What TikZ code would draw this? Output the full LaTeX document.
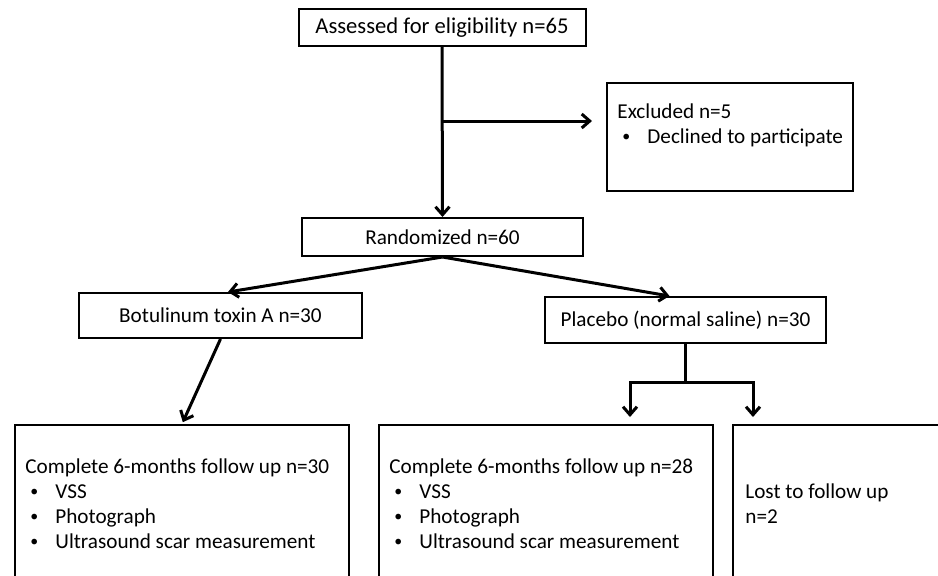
\documentclass[tikz,border=0pt]{standalone}
\usepackage{fontspec}
\setmainfont{Carlito}
\usetikzlibrary{arrows.meta}

\newcommand{\bitem}[1]{\makebox[15pt][l]{\hspace{2.5pt}\raisebox{0.6pt}{\scalebox{0.75}{\textbullet}}}#1}

\begin{document}
\begin{tikzpicture}[x=0.5pt, y=-0.5pt, font=\fontsize{10.6}{12.5}\selectfont,
    box/.style={draw, line width=1pt, inner sep=0pt},
    flow/.style={line width=1.5pt, -{Straight Barb[length=4pt,width=7pt]}},
    txt/.style={anchor=base west, align=left, inner sep=0pt}]
  \useasboundingbox (0,0) rectangle (938,575);
  \clip (0,0) rectangle (938,575);

  % Kaestchen
  \node[box, minimum width=143.5pt, minimum height=18.5pt, font=\fontsize{11.3}{13}\selectfont] (assessed) at (442,27.5) {Assessed for eligibility n=65};
  \node[box, minimum width=123pt, minimum height=54pt] (excluded) at (730,137) {};
  \node[txt] at (617,143) {Excluded n=5\\\bitem{Declined to participate}};

  \node[box, minimum width=140.5pt, minimum height=19pt] (randomized) at (442.5,237) {Randomized n=60};
  \node[box, minimum width=141.5pt, minimum height=22.5pt] (botox) at (220.5,315.5) {Botulinum toxin A n=30};
  \node[box, minimum width=140.5pt, minimum height=23pt] (placebo) at (685.5,320) {Placebo (normal saline) n=30};

  \node[box, minimum width=167pt, minimum height=100pt] (complete1) at (182,525) {};
  \node[txt] at (25,548) {Complete 6-months follow up n=30\\\bitem{VSS}\\\bitem{Photograph}\\\bitem{Ultrasound scar measurement}};
  \node[box, minimum width=167pt, minimum height=100pt] (complete2) at (546,525) {};
  \node[txt] at (389,548) {Complete 6-months follow up n=28\\\bitem{VSS}\\\bitem{Photograph}\\\bitem{Ultrasound scar measurement}};
  \node[box, minimum width=128.5pt, minimum height=100pt] (lost) at (861.5,525) {};
  \node[txt] at (745,523) {Lost to follow up\\n=2};

  % Pfeile
  \draw[flow] (assessed.south) -- (randomized.north);
  \coordinate (excl split) at (assessed.south |- 0,121);
  \draw[flow, shorten >=7pt] (excl split) -- (excl split -| excluded.west);

  \draw[flow] (randomized.south) -- ([xshift=3.75pt]botox.north);
  \draw[flow] (randomized.south) -- ([xshift=-8pt]placebo.north);
  \draw[flow, shorten >=1pt] (botox.south) -- (complete1.north);

  \coordinate (split) at (placebo.south |- 0,382);
  \draw[line width=1.5pt] (placebo.south) -- (split);
  \draw[flow, shorten >=3.5pt] (split) -| (630,0 |- complete2.north);
  \draw[flow, shorten >=3.5pt] (split) -| (753,0 |- lost.north);

\end{tikzpicture}
\end{document}
